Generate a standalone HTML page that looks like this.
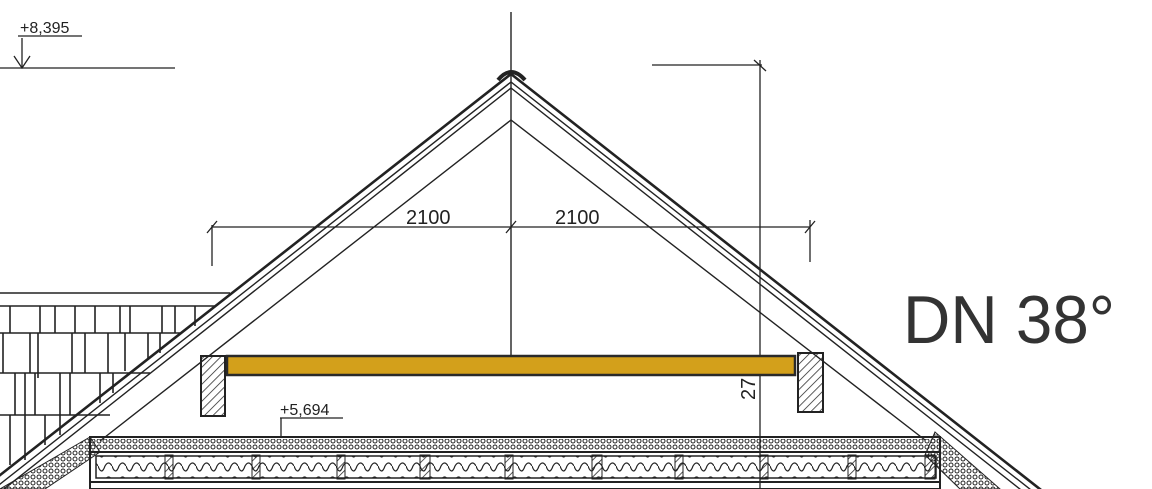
<!DOCTYPE html>
<html><head><meta charset="utf-8"><style>
html,body{margin:0;padding:0;background:#fff;}
svg{display:block}
text{font-family:"Liberation Sans",sans-serif;fill:#222}
</style></head><body>
<svg width="1152" height="489" viewBox="0 0 1152 489" xmlns="http://www.w3.org/2000/svg">
<defs>
<pattern id="h" width="6" height="6" patternUnits="userSpaceOnUse" patternTransform="rotate(45)">
<line x1="0" y1="0" x2="0" y2="6" stroke="#222" stroke-width="1.5"/></pattern>
<pattern id="dots" width="6" height="6" patternUnits="userSpaceOnUse">
<circle cx="3" cy="3" r="2" fill="none" stroke="#222" stroke-width="1"/></pattern>
<pattern id="ins" width="14" height="14" patternUnits="userSpaceOnUse">
<path d="M0 4 q3.5 10 7 0 q3.5 -6 7 0" fill="none" stroke="#222" stroke-width="1.2"/></pattern>
</defs>
<!-- shingles left -->
<g stroke="#222" stroke-width="1.6" fill="none">
<line x1="0" y1="293" x2="230" y2="293"/>
<line x1="0" y1="306" x2="215" y2="306"/>
<line x1="0" y1="333" x2="180" y2="333"/>
<line x1="0" y1="373" x2="150" y2="373"/>
<line x1="0" y1="415" x2="110" y2="415"/>
<path d="M10 306v27M40 306v27M55 306v27M75 306v27M95 306v27M120 306v27M130 306v27M162 306v27M175 306v27M195 306v20"/>
<path d="M3 333v40M30 333v40M38 333v45M72 333v40M85 333v40M108 333v40M125 333v38M148 333v25M160 333v20"/>
<path d="M15 373v42M25 373v42M35 373v42M60 373v42M70 373v42M100 373v30M113 373v20"/>
<path d="M10 415v50M25 415v45M45 415v30M60 415v20"/>
</g>
<!-- floor slab -->
<rect x="90" y="437" width="850" height="52" fill="#fff" stroke="#222" stroke-width="2"/>
<rect x="92" y="439" width="846" height="11" fill="url(#dots)"/>
<line x1="90" y1="452" x2="940" y2="452" stroke="#222" stroke-width="2"/>
<rect x="96" y="456" width="840" height="22" fill="url(#ins)" stroke="#222" stroke-width="1.5"/>
<g fill="url(#h)" stroke="#222" stroke-width="1">
<rect x="165" y="455" width="8" height="24"/><rect x="252" y="455" width="8" height="24"/>
<rect x="337" y="455" width="8" height="24"/><rect x="420" y="455" width="10" height="24"/>
<rect x="505" y="455" width="8" height="24"/><rect x="592" y="455" width="10" height="24"/>
<rect x="675" y="455" width="8" height="24"/><rect x="760" y="455" width="8" height="24"/>
<rect x="848" y="455" width="8" height="24"/><rect x="925" y="455" width="10" height="24"/>
</g>
<line x1="90" y1="482" x2="940" y2="482" stroke="#222" stroke-width="2"/>
<!-- eaves dotted wedges -->
<polygon points="90,437 0,489 45,489 100,452" fill="url(#dots)" stroke="#222"/>
<polygon points="935,432 1000,489 960,489 925,455" fill="url(#dots)" stroke="#222"/>
<!-- roof lines -->
<g stroke="#222" fill="none">
<polyline points="-10,483 511,74 1050,497" stroke-width="2.6"/>
<polyline points="-10,492 511,82 1040,497" stroke-width="1.4"/>
<polyline points="-10,500 511,88 1030,497" stroke-width="1.4"/>
<polyline points="100,441 511,120 925,440" stroke-width="1.4"/>
<path d="M498 80 q13 -16 27 0" stroke-width="4"/>
<line x1="511" y1="12" x2="511" y2="356" stroke-width="1.4"/>
<!-- dimension 2100 -->
<line x1="212" y1="227" x2="810" y2="227" stroke-width="1.3"/>
<line x1="212" y1="225" x2="212" y2="266" stroke-width="1.3"/>
<line x1="810" y1="220" x2="810" y2="262" stroke-width="1.3"/>
<line x1="207" y1="233" x2="217" y2="221" stroke-width="1.3"/>
<line x1="506" y1="233" x2="516" y2="221" stroke-width="1.3"/>
<line x1="805" y1="233" x2="815" y2="221" stroke-width="1.3"/>
<!-- vertical dim right -->
<line x1="652" y1="65" x2="762" y2="65" stroke-width="1.3"/>
<line x1="760" y1="60" x2="760" y2="489" stroke-width="1.3"/>
<line x1="754" y1="60" x2="766" y2="71" stroke-width="1.3"/>
<!-- level +8,395 -->
<line x1="0" y1="68" x2="175" y2="68" stroke-width="1.3"/>
<line x1="22" y1="38" x2="22" y2="68" stroke-width="1.3"/>
<polyline points="14,56 22,68 30,56" stroke-width="1.3"/>
<line x1="18" y1="36" x2="82" y2="36" stroke-width="1.3"/>
<!-- level +5,694 -->
<line x1="280" y1="418" x2="343" y2="418" stroke-width="1.3"/>
<line x1="281" y1="418" x2="281" y2="437" stroke-width="1.3"/>
</g>
<!-- beam -->
<rect x="227" y="356" width="568" height="19" fill="#d3a01b" stroke="#2a2a2a" stroke-width="2.5"/>
<rect x="201" y="356" width="24" height="60" fill="url(#h)" stroke="#222" stroke-width="2"/>
<rect x="798" y="353" width="25" height="59" fill="url(#h)" stroke="#222" stroke-width="2"/>
<text x="406" y="224" font-size="20">2100</text>
<text x="555" y="224" font-size="20">2100</text>
<text x="20" y="33" font-size="16">+8,395</text>
<text x="280" y="415" font-size="16">+5,694</text>
<text x="0" y="0" font-size="20" transform="translate(755,400) rotate(-90)">27</text>
<text x="903" y="343" font-size="68" style="font-weight:300;fill:#333" textLength="212" lengthAdjust="spacingAndGlyphs">DN 38°</text>
</svg>
</body></html>
